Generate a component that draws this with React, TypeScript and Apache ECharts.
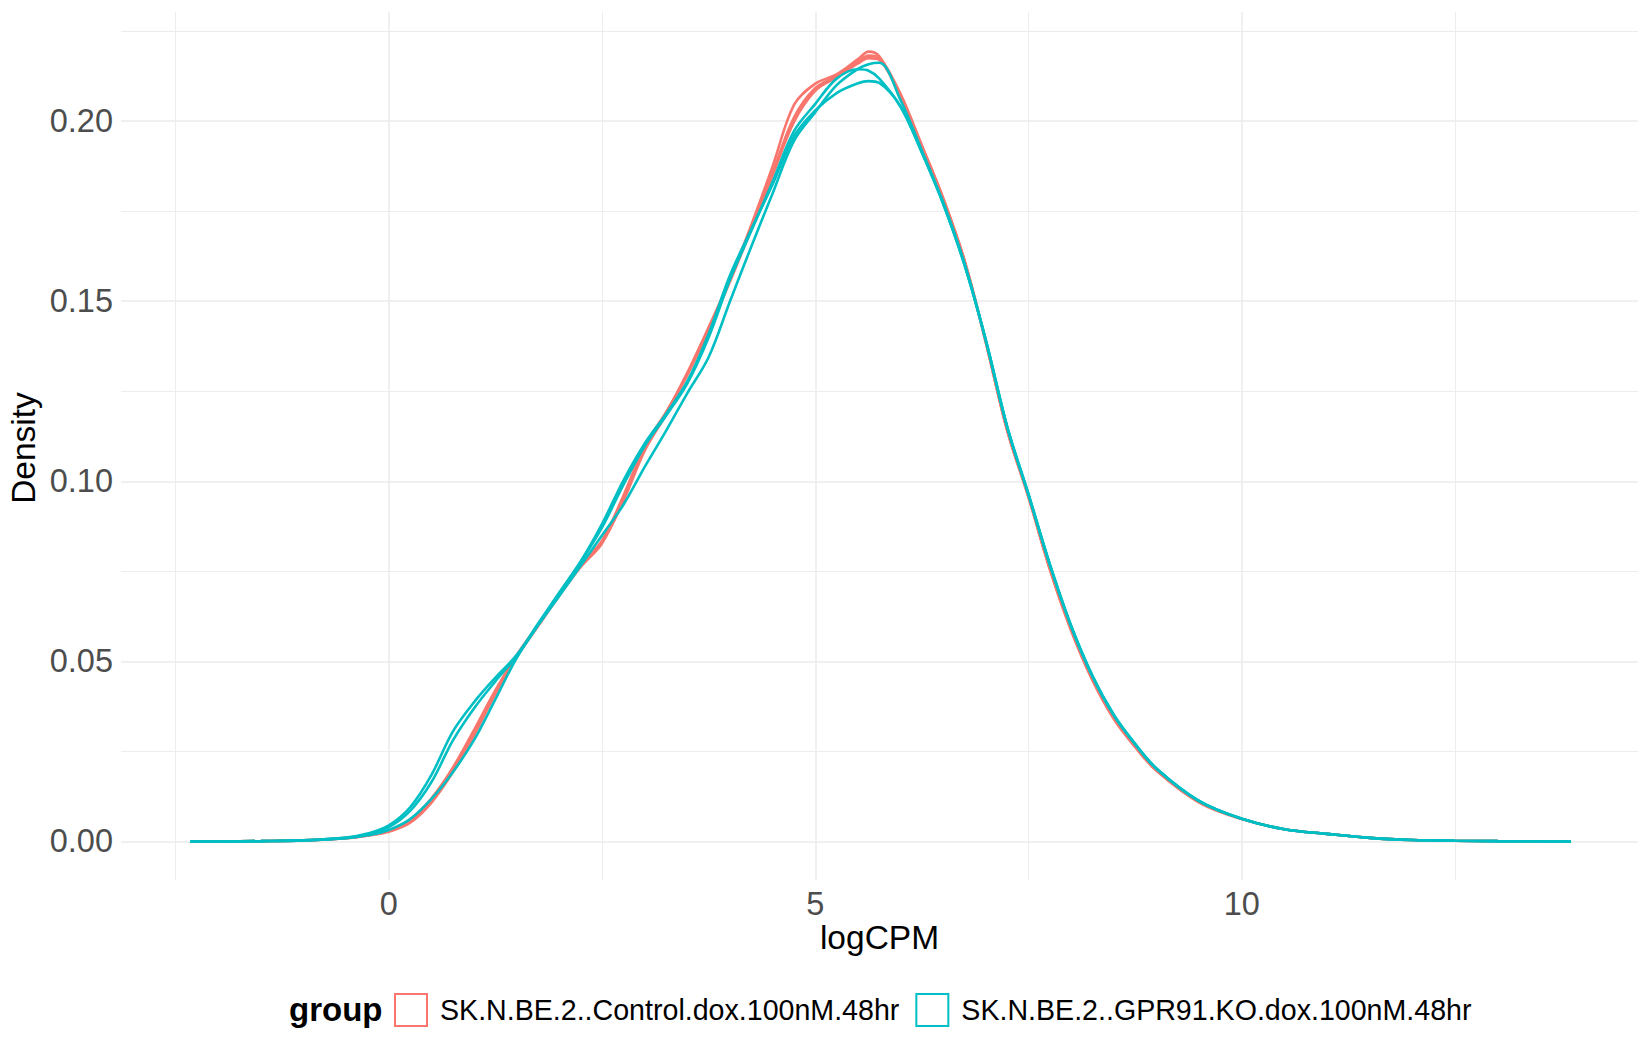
import React, { useEffect, useRef } from "react";
import * as echarts from "echarts";

// ---------- data ----------
const logCPM = [
  -2.33, -2, -1.5, -1, -0.5, -0.25, 0, 0.25, 0.5, 0.75, 1, 1.25, 1.5, 1.75, 2, 2.25, 2.5, 2.75, 3, 3.25, 3.5,
  3.75, 4, 4.25, 4.5, 4.75, 5, 5.25, 5.5, 5.625, 5.75, 6, 6.25, 6.5, 6.75, 7, 7.25, 7.5, 7.75, 8, 8.25, 8.5, 8.75,
  9, 9.5, 10, 10.5, 11, 11.5, 12, 12.5, 13, 13.86,
];

const control1 = [
  0.0, 0.0, 0.0001, 0.0003, 0.0009, 0.0016, 0.0027, 0.0052, 0.0108, 0.0192, 0.0295, 0.041, 0.0512, 0.0598, 0.0683,
  0.0762, 0.0828, 0.095, 0.1092, 0.119, 0.1302, 0.1428, 0.1562, 0.1712, 0.1875, 0.2045, 0.2104, 0.213, 0.2172,
  0.2193, 0.218, 0.2075, 0.1932, 0.1786, 0.1613, 0.1386, 0.114, 0.0955, 0.0755, 0.0585, 0.0447, 0.034, 0.0262,
  0.0196, 0.0108, 0.0062, 0.0034, 0.0021, 0.001, 0.0004, 0.0002, 0.0001, 0.0,
];
const control2 = [
  0.0, 0.0, 0.0001, 0.0003, 0.0009, 0.0017, 0.0028, 0.0055, 0.0112, 0.0198, 0.03, 0.0415, 0.0515, 0.06, 0.0685,
  0.0765, 0.083, 0.0945, 0.1085, 0.1185, 0.1298, 0.1424, 0.1558, 0.1706, 0.1858, 0.201, 0.2092, 0.2126, 0.2165,
  0.2182, 0.2175, 0.207, 0.193, 0.1784, 0.1612, 0.1385, 0.1142, 0.0957, 0.0757, 0.0587, 0.0449, 0.0342, 0.0264,
  0.0198, 0.0109, 0.0062, 0.0034, 0.0021, 0.001, 0.0004, 0.0002, 0.0001, 0.0,
];
const control3 = [
  0.0, 0.0, 0.0001, 0.0003, 0.001, 0.0018, 0.003, 0.006, 0.012, 0.0205, 0.031, 0.042, 0.0518, 0.0602, 0.0688,
  0.0768, 0.0836, 0.096, 0.1098, 0.1192, 0.1295, 0.142, 0.1555, 0.17, 0.185, 0.1998, 0.2085, 0.2122, 0.216,
  0.2175, 0.217, 0.2066, 0.1928, 0.1782, 0.161, 0.1385, 0.1143, 0.0958, 0.0758, 0.0589, 0.0451, 0.0344, 0.0265,
  0.0199, 0.011, 0.0063, 0.0034, 0.0021, 0.001, 0.0004, 0.0002, 0.0001, 0.0,
];
const knockout1 = [
  0.0, 0.0, 0.0001, 0.0003, 0.0011, 0.0022, 0.0045, 0.0095, 0.0185, 0.0305, 0.0387, 0.0455, 0.0518, 0.0605, 0.0692,
  0.0778, 0.0882, 0.1002, 0.1105, 0.1187, 0.1278, 0.141, 0.1572, 0.17, 0.1825, 0.1958, 0.203, 0.2078, 0.2105,
  0.2111, 0.2106, 0.204, 0.1912, 0.177, 0.16, 0.139, 0.115, 0.0962, 0.0768, 0.0597, 0.0458, 0.035, 0.027, 0.0202,
  0.0112, 0.0063, 0.0034, 0.0021, 0.001, 0.0004, 0.0002, 0.0001, 0.0,
];
const knockout2 = [
  0.0, 0.0, 0.0001, 0.0003, 0.001, 0.002, 0.004, 0.0085, 0.0165, 0.028, 0.037, 0.0445, 0.0515, 0.0602, 0.069,
  0.0776, 0.0872, 0.099, 0.1098, 0.1182, 0.1272, 0.14, 0.156, 0.1696, 0.1832, 0.1972, 0.2048, 0.2118, 0.2144,
  0.214, 0.2118, 0.204, 0.1912, 0.177, 0.16, 0.139, 0.115, 0.0962, 0.0768, 0.0597, 0.0458, 0.035, 0.027, 0.0202,
  0.0112, 0.0063, 0.0034, 0.0021, 0.001, 0.0004, 0.0002, 0.0001, 0.0,
];
const knockout3 = [
  0.0, 0.0, 0.0001, 0.0003, 0.0009, 0.0017, 0.0032, 0.0062, 0.0118, 0.0192, 0.0282, 0.0395, 0.051, 0.06, 0.0682,
  0.0766, 0.085, 0.0935, 0.104, 0.114, 0.1245, 0.1345, 0.15, 0.1652, 0.18, 0.1945, 0.2025, 0.21, 0.2145, 0.2158,
  0.2162, 0.2058, 0.1918, 0.1774, 0.1604, 0.1392, 0.1152, 0.0964, 0.077, 0.0599, 0.046, 0.0352, 0.0271, 0.0203,
  0.0113, 0.0063, 0.0034, 0.0021, 0.001, 0.0004, 0.0002, 0.0001, 0.0,
];

const groupNames = ["SK.N.BE.2..Control.dox.100nM.48hr", "SK.N.BE.2..GPR91.KO.dox.100nM.48hr"];
const groupColors = ["#F8766D", "#00BFC4"];
const samples = [
  { group: 0, values: control1 },
  { group: 0, values: control2 },
  { group: 0, values: control3 },
  { group: 1, values: knockout1 },
  { group: 1, values: knockout2 },
  { group: 1, values: knockout3 },
];

// tick values
const xMajorTicks = [0, 5, 10];
const xMinorTicks = [-2.5, 2.5, 7.5, 12.5];
const yMajorTicks = [0, 0.05, 0.1, 0.15, 0.2];
const yMinorTicks = [0.025, 0.075, 0.125, 0.175, 0.225];

// ---------- layout ----------
const W = 1650;
const H = 1050;
const PANEL = { left: 121, right: 1638, top: 12, bottom: 880 };
const X_LIM = [-3.14, 14.645];
const Y_LIM = [-0.0107, 0.2303];
const FONT = '"Liberation Sans", Arial, Helvetica, sans-serif';

const px = (x: number) =>
  PANEL.left + ((x - X_LIM[0]) / (X_LIM[1] - X_LIM[0])) * (PANEL.right - PANEL.left);
const py = (y: number) =>
  PANEL.bottom - ((y - Y_LIM[0]) / (Y_LIM[1] - Y_LIM[0])) * (PANEL.bottom - PANEL.top);

const gridBox = (x0: number, x1: number, y0: number, y1: number) => ({
  left: px(x0),
  width: px(x1) - px(x0),
  top: py(y1),
  height: py(y0) - py(y1),
  containLabel: false,
});

const first = (a: number[]) => a[0];
const last = (a: number[]) => a[a.length - 1];
const step = (a: number[]) => a[1] - a[0];

export default function App() {
  const ref = useRef<HTMLDivElement>(null);

  useEffect(() => {
    if (!ref.current) return;
    const chart = echarts.init(ref.current, undefined, { renderer: "svg" });

    const hidden = { show: false };
    const gridLineAxis = (width: number) => ({
      axisLine: { show: false },
      axisTick: { show: false },
      splitLine: { show: true, lineStyle: { color: "#EBEBEB", width } },
    });

    const option: any = {
      animation: false,
      backgroundColor: "#FFFFFF",
      grid: [
        gridBox(X_LIM[0], X_LIM[1], Y_LIM[0], Y_LIM[1]),
        gridBox(X_LIM[0], X_LIM[1], first(yMajorTicks), last(yMajorTicks)),
        gridBox(X_LIM[0], X_LIM[1], first(yMinorTicks), last(yMinorTicks)),
        gridBox(first(xMajorTicks), last(xMajorTicks), Y_LIM[0], Y_LIM[1]),
        gridBox(first(xMinorTicks), last(xMinorTicks), Y_LIM[0], Y_LIM[1]),
      ],
      xAxis: [
        { gridIndex: 0, type: "value", min: X_LIM[0], max: X_LIM[1], ...hidden },
        { gridIndex: 1, type: "value", min: 0, max: 1, ...hidden },
        { gridIndex: 2, type: "value", min: 0, max: 1, ...hidden },
        {
          gridIndex: 3,
          type: "value",
          min: first(xMajorTicks),
          max: last(xMajorTicks),
          interval: step(xMajorTicks),
          ...gridLineAxis(1.5),
          axisLabel: {
            show: true,
            margin: 7,
            fontSize: 32.5,
            color: "#4D4D4D",
            fontFamily: FONT,
            formatter: (v: number) => String(v),
          },
        },
        {
          gridIndex: 4,
          type: "value",
          min: first(xMinorTicks),
          max: last(xMinorTicks),
          interval: step(xMinorTicks),
          ...gridLineAxis(0.9),
          axisLabel: { show: false },
        },
      ],
      yAxis: [
        { gridIndex: 0, type: "value", min: Y_LIM[0], max: Y_LIM[1], ...hidden },
        {
          gridIndex: 1,
          type: "value",
          min: first(yMajorTicks),
          max: last(yMajorTicks),
          interval: step(yMajorTicks),
          ...gridLineAxis(1.5),
          axisLabel: {
            show: true,
            margin: 8,
            fontSize: 32.5,
            color: "#4D4D4D",
            fontFamily: FONT,
            formatter: (v: number) => v.toFixed(2),
          },
        },
        {
          gridIndex: 2,
          type: "value",
          min: first(yMinorTicks),
          max: last(yMinorTicks),
          interval: step(yMinorTicks),
          ...gridLineAxis(0.9),
          axisLabel: { show: false },
        },
        { gridIndex: 3, type: "value", min: 0, max: 1, ...hidden },
        { gridIndex: 4, type: "value", min: 0, max: 1, ...hidden },
      ],
      legend: {
        data: groupNames.map((n, i) => ({
          name: n,
          icon: "rect",
          itemStyle: { color: "rgba(255,255,255,0)", borderColor: groupColors[i], borderWidth: 2 },
        })),
        left: 394,
        top: 993,
        orient: "horizontal",
        itemWidth: 32,
        itemHeight: 32,
        itemGap: 16,
        padding: 0,
        selectedMode: false,
        textStyle: { fontSize: 28.6, color: "#000000", fontFamily: FONT, padding: [0, 0, 0, 8] },
      },
      graphic: [
        {
          type: "text",
          x: (PANEL.left + PANEL.right) / 2,
          y: 937,
          style: {
            text: "logCPM",
            font: `33.5px ${FONT}`,
            fill: "#000000",
            textAlign: "center",
            textVerticalAlign: "middle",
          },
        },
        {
          type: "text",
          x: 23.3,
          y: (PANEL.top + PANEL.bottom) / 2 + 2,
          rotation: Math.PI / 2,
          style: {
            text: "Density",
            font: `33.5px ${FONT}`,
            fill: "#000000",
            textAlign: "center",
            textVerticalAlign: "middle",
          },
        },
        {
          type: "text",
          x: 289,
          y: 1009,
          style: {
            text: "group",
            font: `bold 33px ${FONT}`,
            fill: "#000000",
            textAlign: "left",
            textVerticalAlign: "middle",
          },
        },
      ],
      series: samples.map((s) => ({
        type: "line",
        name: groupNames[s.group],
        xAxisIndex: 0,
        yAxisIndex: 0,
        data: logCPM.map((x, i) => [x, s.values[i]]),
        symbol: "none",
        showSymbol: false,
        smooth: 0.35,
        lineStyle: { color: groupColors[s.group], width: 2.6 },
        itemStyle: { color: groupColors[s.group] },
        emphasis: { disabled: true },
        silent: true,
        z: 3,
      })),
    };

    chart.setOption(option);
    return () => chart.dispose();
  }, []);

  return <div ref={ref} style={{ position: "absolute", left: 0, top: 0, width: W, height: H }} />;
}
